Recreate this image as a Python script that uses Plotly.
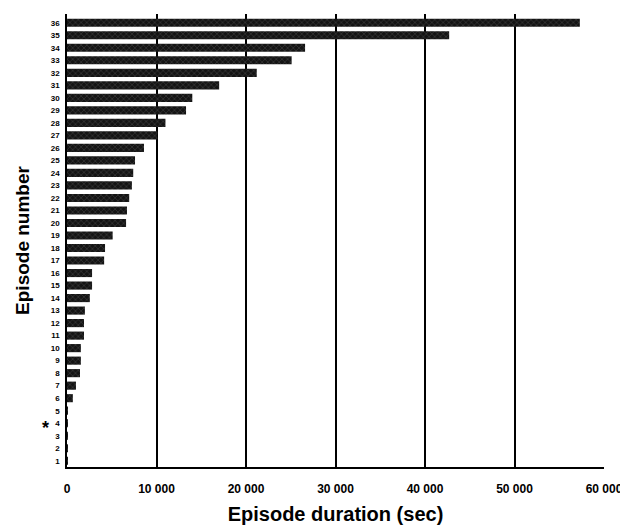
import plotly.graph_objects as go

episodes = list(range(1, 37))
tick_labels = [str(e) for e in episodes]
durations = [30, 50, 60, 60, 100, 650, 1000, 1450, 1550, 1550,
             1900, 1900, 2000, 2550, 2800, 2800, 4150, 4250, 5100, 6600,
             6700, 6950, 7250, 7400, 7600, 8600, 10100, 11000, 13300, 14000,
             17000, 21200, 25100, 26600, 42700, 57300]
x_ticks = [0, 10000, 20000, 30000, 40000, 50000, 60000]
x_tick_text = ["0", "10 000", "20 000", "30 000", "40 000", "50 000", "60 000"]

font_fam = "Liberation Sans Narrow, Arial Narrow, Liberation Sans, Arial, sans-serif"

fig = go.Figure()
fig.add_trace(go.Bar(
    x=durations, y=episodes, orientation="h", width=0.65,
    marker=dict(color="#141414", line=dict(width=0),
                pattern=dict(shape="x", fgcolor="#8a8a8a", size=4, solidity=0.2)),
    hoverinfo="x+y",
))

fig.add_annotation(x=-0.05, y=3.6, xref="paper", yref="y", text="<b>*</b>",
                   showarrow=False, font=dict(size=18, color="black", family=font_fam))

fig.update_layout(
    width=620, height=517,
    margin=dict(l=59, r=24, t=6, b=58, autoexpand=False),
    paper_bgcolor="white", plot_bgcolor="white",
    showlegend=False,
    font=dict(family=font_fam, color="black"),
    bargap=0.35,
)
fig.update_xaxes(
    range=[0, 60000], tickvals=x_ticks, ticktext=x_tick_text,
    tickfont=dict(size=12, family=font_fam, weight="bold"),
    showgrid=True, gridcolor="black", gridwidth=1.5,
    showline=True, linecolor="black", linewidth=1.5,
    zeroline=False, ticks="", automargin=False, ticklabelstandoff=10,
    title=dict(text="<b>Episode duration (sec)</b>", font=dict(size=20, family="Liberation Sans, Arial, sans-serif"), standoff=14),
)
fig.update_yaxes(
    range=[0.5, 36.7], tickvals=episodes, ticktext=tick_labels,
    tickfont=dict(size=8, family=font_fam, weight="bold"),
    showgrid=False, showline=True, linecolor="black", linewidth=1.5,
    zeroline=False, ticks="", ticklabelstandoff=4, automargin=False,
    title=dict(text="<b>Episode number</b>", font=dict(size=19, family="Liberation Sans, Arial, sans-serif"), standoff=16),
)

fig.write_html("out.html")
